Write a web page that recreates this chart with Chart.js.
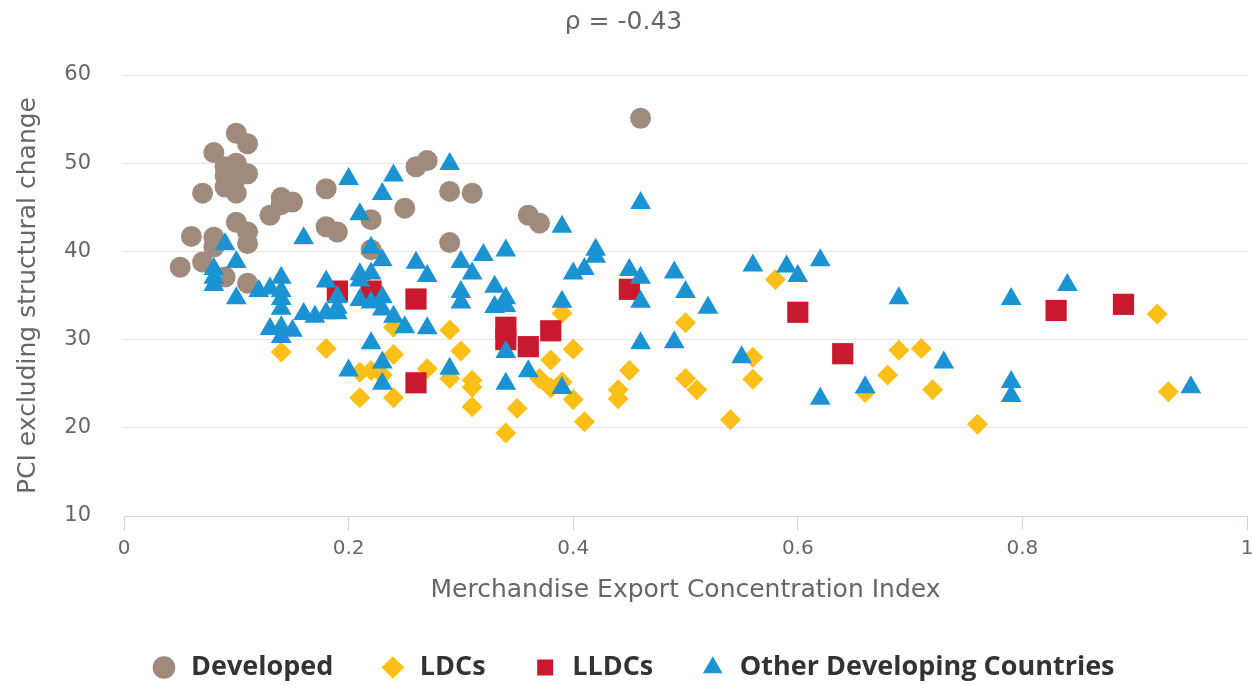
<!DOCTYPE html>
<html>
<head>
<meta charset="utf-8">
<script src="https://cdn.jsdelivr.net/npm/chart.js@4.4.1/dist/chart.umd.min.js"></script>
<style>
  html, body { margin: 0; padding: 0; background: #ffffff; }
  #wrap { width: 1252px; height: 685px; }
</style>
</head>
<body>
<div id="wrap"><canvas id="c" width="1252" height="685"></canvas></div>
<script>
// ---- data ----
const chartTitle = 'ρ = -0.43';
const xTitle = 'Merchandise Export Concentration Index';
const yTitle = 'PCI excluding structural change';
const seriesNames = ['Developed', 'LDCs', 'LLDCs', 'Other Developing Countries'];
const xTicks = [0, 0.2, 0.4, 0.6, 0.8, 1];
const yTicks = [10, 20, 30, 40, 50, 60];

const developed = [
  [0.05,38.2],[0.06,41.7],[0.07,46.6],[0.07,38.8],[0.08,51.2],[0.08,41.6],[0.08,40.5],
  [0.09,47.3],[0.09,49.6],[0.09,48.6],[0.09,37.1],[0.10,53.4],[0.10,50.0],[0.10,48.3],
  [0.10,46.6],[0.10,43.3],[0.11,52.2],[0.11,48.8],[0.11,42.2],[0.11,40.9],[0.11,36.4],
  [0.13,44.1],[0.14,46.1],[0.14,45.3],[0.15,45.6],[0.18,47.1],[0.18,42.8],[0.19,42.2],
  [0.22,43.6],[0.22,40.2],[0.25,44.9],[0.26,49.6],[0.27,50.3],[0.29,46.8],[0.29,41.0],
  [0.31,46.6],[0.36,44.1],[0.37,43.2],[0.46,55.1]
];
const ldcs = [
  [0.14,28.6],[0.18,29.0],[0.21,26.3],[0.21,23.4],[0.22,26.5],[0.23,26.0],[0.24,28.3],
  [0.24,31.4],[0.24,23.4],[0.27,26.7],[0.29,31.1],[0.29,25.6],[0.30,28.7],[0.31,25.4],
  [0.31,24.6],[0.31,22.4],[0.34,19.4],[0.35,22.2],[0.37,25.6],[0.38,27.7],[0.38,24.5],
  [0.39,33.0],[0.39,25.2],[0.40,28.9],[0.40,23.2],[0.41,20.7],[0.44,24.3],[0.44,23.3],
  [0.45,26.5],[0.50,31.9],[0.50,25.6],[0.51,24.3],[0.54,20.9],[0.56,28.0],[0.56,25.5],
  [0.58,36.8],[0.66,24.0],[0.68,26.0],[0.69,28.8],[0.71,29.0],[0.72,24.3],[0.76,20.4],
  [0.92,32.9],[0.93,24.1]
];
const lldcs = [
  [0.19,35.5],[0.22,35.5],[0.26,34.6],[0.26,25.1],[0.34,31.4],[0.34,30.0],[0.36,29.2],
  [0.38,31.0],[0.45,35.7],[0.60,33.1],[0.64,28.4],[0.83,33.3],[0.89,34.0]
];
const others = [
  [0.08,36.2],[0.08,37.0],[0.08,38.0],[0.09,40.8],[0.10,38.8],[0.10,34.7],[0.12,35.5],
  [0.13,35.8],[0.13,31.2],[0.14,37.0],[0.14,35.5],[0.14,34.6],[0.14,33.5],[0.14,31.4],
  [0.14,30.3],[0.15,31.0],[0.16,41.5],[0.16,32.9],[0.17,32.6],[0.18,36.6],[0.18,33.0],
  [0.19,34.8],[0.19,33.6],[0.19,33.0],[0.20,48.2],[0.20,26.5],[0.21,44.2],[0.21,37.4],
  [0.21,36.7],[0.21,34.5],[0.22,40.4],[0.22,37.5],[0.22,34.2],[0.22,29.6],[0.23,46.5],
  [0.23,39.0],[0.23,34.8],[0.23,33.4],[0.23,27.4],[0.23,25.0],[0.24,48.6],[0.24,32.6],
  [0.25,31.4],[0.26,38.7],[0.27,37.2],[0.27,31.3],[0.29,49.9],[0.29,26.7],[0.30,38.8],
  [0.30,35.4],[0.30,34.2],[0.31,37.5],[0.32,39.6],[0.33,36.0],[0.33,33.7],[0.34,40.1],
  [0.34,34.7],[0.34,33.8],[0.34,28.6],[0.34,25.0],[0.36,26.4],[0.39,42.8],[0.39,34.3],
  [0.39,24.5],[0.40,37.5],[0.41,38.0],[0.42,39.4],[0.42,40.2],[0.45,37.9],[0.46,45.5],
  [0.46,37.0],[0.46,34.3],[0.46,29.6],[0.49,37.6],[0.49,29.7],[0.50,35.4],[0.52,33.6],
  [0.55,28.0],[0.56,38.4],[0.59,38.3],[0.60,37.2],[0.62,39.0],[0.62,23.3],[0.66,24.6],
  [0.69,34.7],[0.73,27.4],[0.79,34.6],[0.79,25.2],[0.79,23.6],[0.84,36.2],[0.95,24.6]
];

// ---- styles ----
const colors = ['#a08a7c', '#fcbf17', '#c8192e', '#1b93d2'];
const shapes = ['circle', 'rectRot', 'rect', 'triangle'];
const radii = [10.5, 10.5, 15, 12];
const seriesData = [developed, ldcs, lldcs, others];
const drawOrder = [4, 3, 2, 1]; // triangles on top

const toPoints = arr => arr.map(p => ({ x: p[0], y: p[1] }));

const datasets = seriesNames.map((name, i) => ({
  label: name,
  data: toPoints(seriesData[i]),
  backgroundColor: colors[i],
  borderColor: colors[i],
  borderWidth: 0,
  pointStyle: shapes[i],
  pointRadius: radii[i],
  pointHoverRadius: radii[i],
  order: drawOrder[i]
}));

const baseFamily = '"DejaVu Sans", sans-serif';

// nudge the legend row slightly right, as in the reference
const legendShift = {
  id: 'legendShift',
  afterLayout(chart) {
    if (chart.legend) { chart.legend.left += 9; chart.legend.right += 9; }
  }
};

new Chart(document.getElementById('c'), {
  type: 'scatter',
  data: { datasets },
  plugins: [legendShift],
  options: {
    responsive: false,
    animation: false,
    layout: { autoPadding: false, padding: { left: 0, right: 5, top: 0, bottom: 0 } },
    plugins: {
      tooltip: { enabled: false },
      title: {
        display: true,
        text: chartTitle,
        color: '#666666',
        font: { family: baseFamily, size: 25, weight: 'normal' },
        padding: { top: 7, bottom: 38 }
      },
      legend: {
        position: 'bottom',
        maxHeight: 77,
        labels: {
          usePointStyle: true,
          boxHeight: 16,
          padding: 46,
          color: '#333333',
          font: { family: '"Open Sans", sans-serif', size: 27, weight: 'bold' },
          sort: (a, b) => a.datasetIndex - b.datasetIndex
        }
      }
    },
    scales: {
      x: {
        type: 'linear',
        min: 0,
        max: 1,
        afterFit: s => { s.height = 92; s.paddingRight = 0; s.paddingLeft = 0; },
        afterBuildTicks: s => { s.ticks = xTicks.map(v => ({ value: v })); },
        ticks: {
          color: '#666666',
          padding: 7,
          font: { family: baseFamily, size: 20 },
          callback: v => String(+v.toFixed(1))
        },
        grid: { drawOnChartArea: false, drawTicks: true, tickLength: 14, tickColor: '#ccd6eb' },
        border: { display: true, color: '#ccd6eb', width: 1 },
        title: {
          display: true,
          text: xTitle,
          color: '#666666',
          font: { family: baseFamily, size: 25 },
          padding: { top: 4, bottom: 3 }
        }
      },
      y: {
        type: 'linear',
        min: 10,
        max: 60,
        afterFit: s => { s.width = 124; },
        afterBuildTicks: s => { s.ticks = yTicks.map(v => ({ value: v })); },
        ticks: {
          color: '#666666',
          padding: 33,
          font: { family: baseFamily, size: 21 }
        },
        grid: { color: '#e6e6e6', lineWidth: 1, drawTicks: false },
        border: { display: false },
        title: {
          display: true,
          text: yTitle,
          color: '#666666',
          font: { family: baseFamily, size: 25 },
          padding: { top: 13, bottom: 4 }
        }
      }
    }
  }
});
</script>
</body>
</html>
